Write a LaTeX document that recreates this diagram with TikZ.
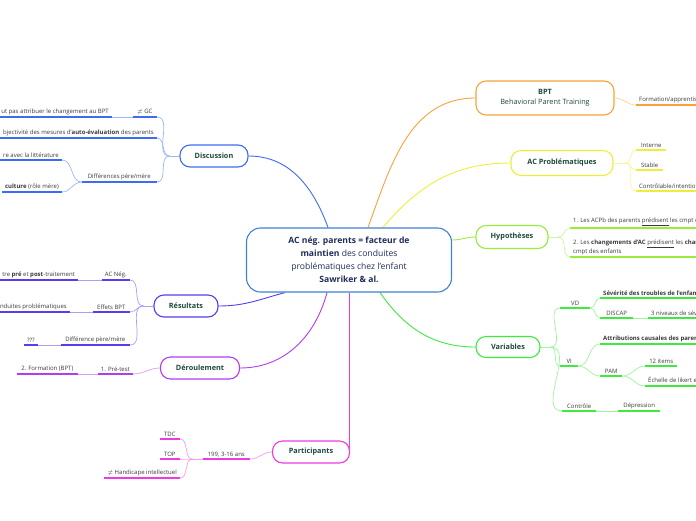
\documentclass[tikz,border=0pt]{standalone}
\usepackage{fontspec}
\setmainfont{Open Sans}
\usepackage{tikz}
\usetikzlibrary{positioning,calc,backgrounds}
\definecolor{cenblue}   {HTML}{3C83D4}
\definecolor{centext}   {HTML}{1F2D5C}
\definecolor{topictext} {HTML}{1E4A3A}
\definecolor{leafgray}  {HTML}{3A3A3A}
\definecolor{discblue}  {HTML}{3D6CF2}
\definecolor{resblue}   {HTML}{5A3BEF}
\definecolor{derpurple} {HTML}{B23CF2}
\definecolor{partmag}   {HTML}{EE3AE3}
\definecolor{vargreen}  {HTML}{3DEB3D}
\definecolor{hypgreen}  {HTML}{96EE3A}
\definecolor{acpyellow} {HTML}{EEEE3A}
\definecolor{bptorange} {HTML}{F7A23A}

\begin{document}
\begin{tikzpicture}[
  x=1pt, y=-1pt,
  centre/.style={draw=cenblue,fill=white,line width=1.1pt,rounded corners=14pt,
                 minimum width=205pt,minimum height=64pt,align=center,
                 text=centext,font=\fontsize{8.6}{13}\selectfont},
  topic/.style={draw=#1,fill=white,line width=1.1pt,rounded corners=10pt,
                minimum height=22pt,align=center,text=topictext,
                font=\fontsize{7.3}{10}\selectfont\bfseries},
  leaf/.style={font=\fontsize{6}{7.5}\selectfont,text=leafgray,
               inner xsep=3pt,inner ysep=2pt,align=left,
               append after command={(\tikzlastnode.south west)
                 edge[draw=#1,line width=1.7pt] (\tikzlastnode.south east)}},
  link/.style={draw=#1,line width=0.9pt},
  twig/.style={draw=#1!50,line width=0.7pt}
]
\useasboundingbox (0,0) rectangle (696,520);
\clip (0,0) rectangle (696,520);

% --- centre ---
\node[centre] (cen) at (349,260)
  {\textbf{AC nég. parents = facteur de}\\
   \textbf{maintien} des conduites\\
   problématiques chez l'enfant\\
   \textbf{Sawriker \& al.}};

% --- Discussion ---
\node[topic=discblue,minimum width=68pt] (disc) at (214,156) {Discussion};
\node[leaf=discblue,anchor=south east,minimum width=24pt] (gc) at (157,117) {$\neq$ GC};
\node[leaf=discblue,anchor=south east] (attr) at (112,117) {ut pas attribuer le changement au BPT};
\node[leaf=discblue,anchor=south east] (obj) at (157,138)
  {bjectivité des mesures d'\textbf{auto-évaluation} des parents};
\node[leaf=discblue,anchor=south east,minimum width=75pt] (pm) at (157,182) {Différences père/mère};
\node[leaf=discblue,anchor=south east] (litt) at (62,160) {re avec la littérature};
\node[leaf=discblue,anchor=south east] (cult) at (62,192) {\textbf{culture} (rôle mère)};

% --- Resultats ---
\node[topic=resblue,minimum width=64pt] (res) at (186,306) {Résultats};
\node[leaf=resblue,anchor=south east,minimum width=28pt] (acneg) at (130,280) {AC Nég.};
\node[leaf=resblue,anchor=south east] (prepost) at (78,280) {tre \textbf{pré} et \textbf{post}-traitement};
\node[leaf=resblue,anchor=south east,minimum width=37pt] (eff) at (130,312) {Effets BPT};
\node[leaf=resblue,anchor=south east] (cond) at (70,312) {nduites problématiques};
\node[leaf=resblue,anchor=south east,minimum width=69pt] (diff) at (130,345) {Différence père/mère};
\node[leaf=resblue,anchor=south east,minimum width=13pt] (qqq) at (38,345) {???};

% --- Deroulement ---
\node[topic=derpurple,minimum width=79pt] (der) at (200,368) {Déroulement};
\node[leaf=derpurple,anchor=south east,minimum width=33pt] (pre) at (133,374) {1. Pré-test};
\node[leaf=derpurple,anchor=south east,minimum width=61pt] (form) at (78,374) {2. Formation (BPT)};

% --- Participants ---
\node[topic=partmag,minimum width=77pt] (part) at (311,452) {Participants};
\node[leaf=partmag,anchor=south east,minimum width=47pt] (age) at (250,459) {199, 3-16 ans};
\node[leaf=partmag,anchor=south east,minimum width=20pt] (tdc) at (180,439) {TDC};
\node[leaf=partmag,anchor=south east,minimum width=20pt] (top) at (180,459) {TOP};
\node[leaf=partmag,anchor=south east] (hand) at (180,478) {$\neq$ Handicape intellectuel};

% --- BPT ---
\node[topic=bptorange,minimum width=138pt,minimum height=34pt] (bpt) at (545,98)
  {BPT\\\mdseries Behavioral Parent Training};
\node[leaf=bptorange,anchor=south west] (appr) at (636,105) {Formation/apprentissage};

% --- AC Problematiques ---
\node[topic=acpyellow,minimum width=102pt,minimum height=25pt] (acp) at (562,163) {AC Problématiques};
\node[leaf=acpyellow,anchor=south west,minimum width=30pt] (int) at (636,150) {Interne};
\node[leaf=acpyellow,anchor=south west,minimum width=27pt] (stab) at (636,170) {Stable};
\node[leaf=acpyellow,anchor=south west] (ctrl) at (636,191) {Contrôlable/intentionnel};

% --- Hypotheses ---
\node[topic=hypgreen,minimum width=72pt,minimum height=23pt] (hyp) at (512,237) {Hypothèses};
\node[leaf=hypgreen,anchor=south west,minimum width=130pt] (h1) at (570,228)
  {1. Les ACPb des parents \underline{prédisent} les cmpt des enfants};
\node[leaf=hypgreen,anchor=south west,minimum width=130pt] (h2) at (570,257)
  {2. Les \textbf{changements d'AC} \underline{prédisent} les \textbf{changements de}\\cmpt des enfants};

% --- Variables ---
\node[topic=vargreen,minimum width=64pt,minimum height=21pt] (var) at (508,347) {Variables};
\node[leaf=vargreen,anchor=south west,minimum width=30pt] (vd) at (560,308) {VD};
\node[leaf=vargreen,anchor=south west] (sev) at (600,298) {\textbf{Sévérité des troubles de l'enfant}};
\node[leaf=vargreen,anchor=south west,minimum width=33pt] (discap) at (600,318) {DISCAP};
\node[leaf=vargreen,anchor=south west] (niv) at (648,318) {3 niveaux de sévérité};
\node[leaf=vargreen,anchor=south west,minimum width=18pt] (vi) at (560,366) {VI};
\node[leaf=vargreen,anchor=south west] (attrib) at (600,344) {\textbf{Attributions causales des parents}};
\node[leaf=vargreen,anchor=south west,minimum width=22pt] (pam) at (600,376) {PAM};
\node[leaf=vargreen,anchor=south west,minimum width=32pt] (items) at (645,366) {12 items};
\node[leaf=vargreen,anchor=south west] (likert) at (645,386) {Échelle de likert en 7 points};
\node[leaf=vargreen,anchor=south west,minimum width=34pt] (contr) at (562,411) {Contrôle};
\node[leaf=vargreen,anchor=south west,minimum width=42pt] (depr) at (618,411) {Dépression};

% --- liens centre -> themes ---
\begin{scope}[on background layer]
\draw[link=discblue]  ($(cen.north)+(-21,0)$) to[out=110,in=0] (disc.east);
\draw[link=resblue]   ($(cen.south)+(-64,0)$) to[out=195,in=0] (res.east);
\draw[link=derpurple] ($(cen.south)+(-22,0)$) to[out=-105,in=0] (der.east);
\draw[link=partmag]   (cen.south) -- (cen.south |- part.east);
\draw[link=bptorange] ($(cen.north)+(19,0)$) to[out=70,in=180] (bpt.west);
\draw[link=acpyellow] ($(cen.north)+(34,0)$) to[out=50,in=180] (acp.west);
\draw[link=hypgreen]  ($(cen.east)+(0,-20)$) to[out=0,in=180] (hyp.west);
\draw[link=vargreen]  ($(cen.south)+(31,0)$) to[out=-55,in=180] (var.west);
\end{scope}

% --- liens themes -> feuilles ---
\coordinate (disc-j) at ($(disc.west)+(-10,0)$);
\draw[twig=discblue] (disc.west) -- (disc-j);
\foreach \n in {gc,obj,pm} \draw[twig=discblue] (disc-j) to[out=180,in=0] (\n.south east);
\draw[twig=discblue] (gc.south west) -- (attr.south east);
\foreach \n in {litt,cult} \draw[twig=discblue] (pm.south west) to[out=180,in=0] (\n.south east);

\coordinate (res-j) at ($(res.west)+(-10,0)$);
\draw[twig=resblue] (res.west) -- (res-j);
\foreach \n in {acneg,eff,diff} \draw[twig=resblue] (res-j) to[out=180,in=0] (\n.south east);
\draw[twig=resblue] (acneg.south west) -- (prepost.south east);
\draw[twig=resblue] (eff.south west) -- (cond.south east);
\draw[twig=resblue] (diff.south west) -- (qqq.south east);

\draw[twig=derpurple] (der.west) to[out=180,in=0] (pre.south east);
\draw[twig=derpurple] (pre.south west) -- (form.south east);

\draw[twig=partmag] (part.west) to[out=180,in=0] (age.south east);
\coordinate (age-j) at ($(age.south west)+(-10,0)$);
\draw[twig=partmag] (age.south west) -- (age-j);
\foreach \n in {tdc,top,hand} \draw[twig=partmag] (age-j) to[out=180,in=0] (\n.south east);

\draw[twig=bptorange] (bpt.east) to[out=0,in=180] (appr.south west);

\coordinate (acp-j) at ($(acp.east)+(12,0)$);
\draw[twig=acpyellow] (acp.east) -- (acp-j);
\foreach \n in {int,stab,ctrl} \draw[twig=acpyellow] (acp-j) to[out=0,in=180] (\n.south west);

\coordinate (hyp-j) at ($(hyp.east)+(10,0)$);
\draw[twig=hypgreen] (hyp.east) -- (hyp-j);
\foreach \n in {h1,h2} \draw[twig=hypgreen] (hyp-j) to[out=0,in=180] (\n.south west);

\coordinate (var-j) at ($(var.east)+(10,0)$);
\draw[twig=vargreen] (var.east) -- (var-j);
\foreach \n in {vd,vi,contr} \draw[twig=vargreen] (var-j) to[out=0,in=180] (\n.south west);
\foreach \n in {sev,discap} \draw[twig=vargreen] (vd.south east) to[out=0,in=180] (\n.south west);
\draw[twig=vargreen] (discap.south east) -- (niv.south west);
\foreach \n in {attrib,pam} \draw[twig=vargreen] (vi.south east) to[out=0,in=180] (\n.south west);
\foreach \n in {items,likert} \draw[twig=vargreen] (pam.south east) to[out=0,in=180] (\n.south west);
\draw[twig=vargreen] (contr.south east) -- (depr.south west);
\end{tikzpicture}
\end{document}
